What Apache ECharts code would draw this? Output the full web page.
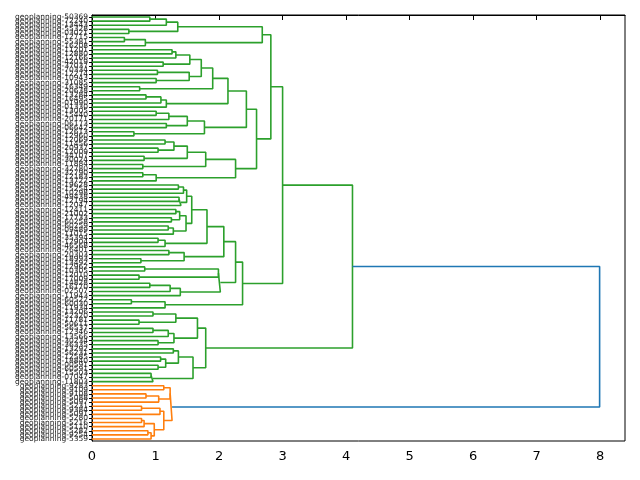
<!DOCTYPE html>
<html>
<head>
<meta charset="utf-8">
<script src="https://cdn.jsdelivr.net/npm/echarts@6/dist/echarts.min.js"></script>
<style>
  html, body { margin: 0; background: #fff; }
  #chart { width: 640px; height: 480px; }
</style>
</head>
<body>
<div id="chart"></div>
<script>
// leaf ids, top to bottom as drawn
const greenIds = [
  '50369','72240','13443','55328','03021','12715','55381','16208','11201','12880',
  '12166','42019','37037','70334','12274','10943','31085','16349','20638','13284',
  '16495','01990','01330','13005','15440','20171','06173','06642','12613','12960',
  '12069','11456','20937','12009','34107','30024','11884','32780','32790','12183',
  '13722','19628','15254','10298','49438','12194','12047','12411','21002','17733',
  '60258','60259','09489','11015','35394','12904','46568','26401','20303','18993',
  '13492','12962','10305','12010','17009','14828','16170','02507','11943','60522',
  '60030','11934','13206','52320','11781','50611','56537','12346','13566','30234',
  '36335','13292','56231','12585','18840','00591','60591','15503','07047','11803'
];
const orangeIds = ['9283','9109','9108','5088','5097','5231','9384','5091','5280','5216','5110','5282','9254','5359'];
const leafLabels = [...greenIds, ...orangeIds].map(n => 'geoplanning-' + n);

// merges: [upper child, lower child, height]; a number is a leaf index
const blockA = [[[0, 1, 0.91], 2, 1.17], [3, 4, 0.58], 1.35];
const blockB = [[5, 6, 0.51], 7, 0.84];
const blockC = [[[[8, 9, 1.26], 10, 1.32], [11, 12, 1.12], 1.54], [[13, 14, 1.03], [15, 16, 1.01], 1.53], 1.72];
const blockD = [blockC, [17, 18, 0.75], 1.90];
const blockE = [[[19, 20, 0.85], 21, 1.085], 22, 1.17];
const blockF = [[[[23, 24, 1.01], 25, 1.21], [26, 27, 1.17], 1.50], [28, 29, 0.66], 1.77];
const blockG = [[[[[30, 31, 1.15], [32, 33, 1.04], 1.29], [34, 35, 0.82], 1.50], [36, 37, 0.80], 1.79], [[38, 39, 0.80], 40, 1.01], 2.26];
const blockH = [[[blockD, blockE, 2.14], blockF, 2.43], blockG, 2.59];
const blockTop = [[blockA, blockB, 2.68], blockH, 2.815];

const blockUp = [[[41, 42, 1.36], 43, 1.44], [[44, 45, 1.37], 46, 1.40], 1.49];
const blockLow = [[[47, 48, 1.32], [49, 50, 1.25], 1.38], [[51, 52, 1.20], 53, 1.28], 1.48];
const blockJ = [[[blockUp, blockLow, 1.57], [[54, 55, 1.04], 56, 1.15], 1.81], [[57, 58, 1.21], [59, 60, 0.77], 1.45], 2.075];
const blockK = [[[61, 62, 0.83], [63, 64, 0.74], 1.99], [[[65, 66, 0.91], 67, 1.23], 68, 1.39], 2.02];
const blockL = [[blockJ, blockK, 2.26], [[69, 70, 0.62], 71, 1.15], 2.37];

const blockM = [[[72, 73, 0.96], [74, 75, 0.74], 1.32], [[[76, 77, 0.96], 78, 1.20], [79, 80, 1.04], 1.29], 1.66];
const blockN = [[[81, 82, 1.28], [[83, 84, 1.08], [85, 86, 1.04], 1.16], 1.36], [[87, 88, 0.93], 89, 0.96], 1.59];
const greenTree = [[blockTop, blockL, 3.00], [blockM, blockN, 1.79], 4.10];

const orangeTree = [
  [[90, 91, 1.13], [[92, 93, 0.85], 94, 1.05], 1.23],
  [[[95, 96, 0.78], 97, 1.07], [[[98, 99, 0.78], 100, 0.82], [[101, 102, 0.88], 103, 0.93], 0.98], 1.13],
  1.26
];
const rootTree = [greenTree, orangeTree, 7.99];

const xTicks = [0, 1, 2, 3, 4, 5, 6, 7, 8];
const clusterPalette = ['#ff7f0e', '#2ca02c', '#d62728', '#9467bd'];
const aboveColor = '#1f77b4';

const N = leafLabels.length;
const threshold = 0.7 * rootTree[2];
const links = [];
let paletteIdx = 0;

function build(node, color) {
  if (typeof node === 'number') return { y: 10 * node + 5, h: 0 };
  const h = node[2];
  let c = color;
  if (h >= threshold) c = aboveColor;
  else if (!color) c = clusterPalette[paletteIdx++];
  const childColor = h >= threshold ? null : c;
  // lower child first, so colours follow leaf order from the bottom
  const b = build(node[1], childColor);
  const a = build(node[0], childColor);
  links.push({ pts: [[a.h, a.y], [h, a.y], [h, b.y], [b.h, b.y]], color: c });
  return { y: (a.y + b.y) / 2, h: h };
}
build(rootTree, null);

const chart = echarts.init(document.getElementById('chart'));
chart.setOption({
  animation: false,
  grid: {
    left: 92, right: 15, top: 15, bottom: 39,
    show: true, borderColor: '#000', borderWidth: 1,
    outerBoundsMode: 'none'
  },
  xAxis: {
    type: 'value',
    min: 0,
    max: rootTree[2] * 1.05,
    axisLine: { show: true, lineStyle: { color: '#000', width: 1 } },
    axisTick: { show: true, length: 5, customValues: xTicks, lineStyle: { color: '#000' } },
    axisLabel: { customValues: xTicks, color: '#000', fontSize: 13, margin: 9, fontFamily: 'DejaVu Sans' },
    splitLine: { show: false }
  },
  yAxis: [
    {
      type: 'category',
      data: leafLabels,
      inverse: true,
      axisLine: { show: true, lineStyle: { color: '#000', width: 1 } },
      axisTick: { show: true, length: 3, alignWithLabel: true, lineStyle: { color: '#000' } },
      axisLabel: { interval: 0, fontSize: 7.5, color: '#222', margin: 4, fontFamily: 'DejaVu Sans' },
      splitLine: { show: false }
    },
    {
      type: 'value',
      min: 0,
      max: 10 * N,
      inverse: true,
      show: false,
      splitLine: { show: false }
    }
  ],
  series: links.map(l => ({
    type: 'line',
    yAxisIndex: 1,
    data: l.pts,
    symbol: 'none',
    silent: true,
    lineStyle: { color: l.color, width: 1.6 }
  }))
});
</script>
</body>
</html>
